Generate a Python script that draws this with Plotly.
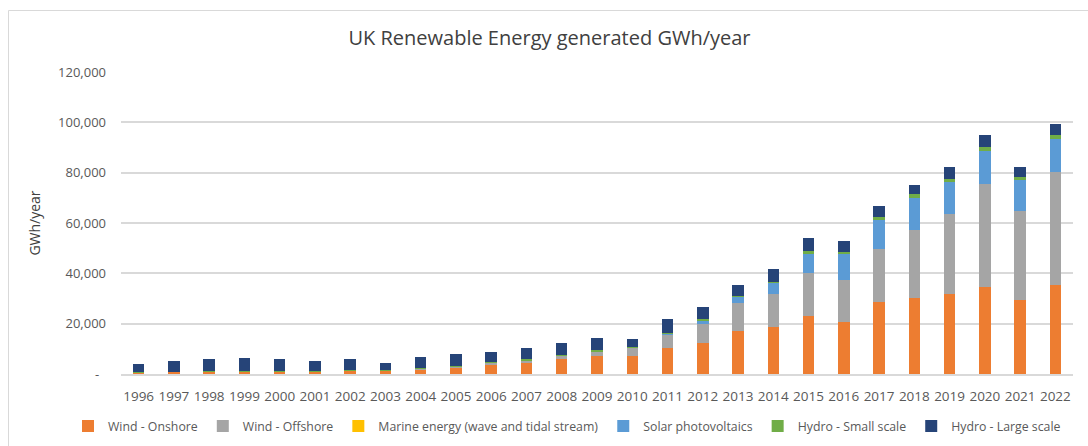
import plotly.graph_objects as go

years = [str(y) for y in range(1996, 2023)]

wind_onshore = [490, 670, 880, 850, 950, 960, 1250, 1280, 1740, 2500, 3570, 4490, 5790, 7160,
                7140, 10370, 12240, 16920, 18550, 22850, 20750, 28710, 30380, 31820, 34690, 29260, 35190]
wind_offshore = [0, 0, 0, 0, 0, 0, 0, 10, 200, 400, 650, 780, 1300, 1740,
                 3060, 5150, 7600, 11470, 13400, 17420, 16410, 20920, 26690, 31910, 40680, 35600, 44950]
marine = [0, 0, 0, 0, 0, 0, 0, 0, 0, 0, 0, 0, 0, 1,
          2, 1, 4, 6, 2, 2, 1, 4, 8, 14, 3, 5, 8]
solar_pv = [1, 1, 1, 1, 1, 2, 3, 3, 4, 8, 11, 14, 17, 20,
            40, 240, 1350, 2010, 4050, 7530, 10410, 11460, 12860, 12580, 13160, 12140, 13280]
hydro_small = [150, 170, 200, 210, 210, 210, 210, 150, 280, 440, 480, 530, 560, 570,
               500, 700, 650, 660, 740, 1000, 1030, 1190, 1450, 1190, 1590, 1200, 1560]
hydro_large = [3330, 4190, 4900, 5300, 4800, 3860, 4500, 3060, 4680, 4470, 4030, 4390, 4520, 4950,
               3040, 5270, 4660, 4180, 5000, 5400, 4270, 4510, 3700, 4600, 4890, 4200, 4250]

# colours carry a hair of transparency so plotly snaps bar edges to whole
# pixels instead of widening sub-pixel segments (marine energy) to 1px
series = [
    ("Wind - Onshore", wind_onshore, "rgba(237,125,49,0.999)"),
    ("Wind - Offshore", wind_offshore, "rgba(165,165,165,0.999)"),
    ("Marine energy (wave and tidal stream)", marine, "rgba(255,192,0,0.999)"),
    ("Solar photovoltaics", solar_pv, "rgba(91,155,213,0.999)"),
    ("Hydro - Small scale", hydro_small, "rgba(112,173,71,0.999)"),
    ("Hydro - Large scale", hydro_large, "rgba(38,68,120,0.999)"),
]

y_ticks = [0, 20000, 40000, 60000, 80000, 100000, 120000]
y_tick_text = ["-\u00a0\u00a0"] + [f"{v:,}" for v in y_ticks[1:]]

W, H = 1088, 446
L, R, T, B = 121, 15, 72, 72

fig = go.Figure()
for name, vals, color in series:
    fig.add_trace(go.Bar(name=name, x=years, y=vals,
                         marker=dict(color=color, line=dict(width=0))))

FONT = "Open Sans, Liberation Sans, sans-serif"
GREY_TXT = "#595959"

pw = W - L - R
ph = H - T - B

fig.update_layout(
    width=W, height=H,
    margin=dict(l=L, r=R, t=T, b=B, autoexpand=False),
    barmode="stack",
    bargap=0.674,
    plot_bgcolor="white",
    paper_bgcolor="white",
    font=dict(family=FONT, color=GREY_TXT, size=13),
    title=dict(text="UK Renewable Energy generated GWh/year",
               x=549.5 / W, xanchor="center", xref="container",
               y=1 - 38 / H, yanchor="middle", yref="container",
               font=dict(size=20, color="#404040", family=FONT)),
    legend=dict(orientation="h",
                x=(68 - L) / pw, xanchor="left",
                y=(H - B - 426) / ph, yanchor="middle",
                font=dict(size=12.3, color=GREY_TXT, family=FONT),
                itemwidth=30, traceorder="normal", bgcolor="rgba(0,0,0,0)"),
    xaxis=dict(showgrid=False, showline=True, linecolor="#D9D9D9", linewidth=1.5,
               ticks="", tickfont=dict(size=13.5, color=GREY_TXT),
               ticklabelstandoff=9),
    yaxis=dict(range=[0, 120000], tickvals=y_ticks, ticktext=y_tick_text,
               showgrid=True, gridcolor="#D9D9D9", gridwidth=1.5,
               zeroline=False, showline=False, ticks="",
               tickfont=dict(size=13, color=GREY_TXT),
               ticklabelstandoff=14,
               title=dict(text="GWh/year", font=dict(size=14, color="#404040"),
                          standoff=14)),
    shapes=[
        dict(type="line", xref="paper", yref="paper",
             x0=(8.5 - L) / pw, x1=(8.5 - L) / pw,
             y0=(H - B - 10.5) / ph, y1=(H - B - 460) / ph,
             line=dict(color="#D9D9D9", width=1)),
        dict(type="line", xref="paper", yref="paper",
             x0=(8.5 - L) / pw, x1=(1100 - L) / pw,
             y0=(H - B - 10.5) / ph, y1=(H - B - 10.5) / ph,
             line=dict(color="#D9D9D9", width=1)),
    ],
)

fig.write_html("out.html")
